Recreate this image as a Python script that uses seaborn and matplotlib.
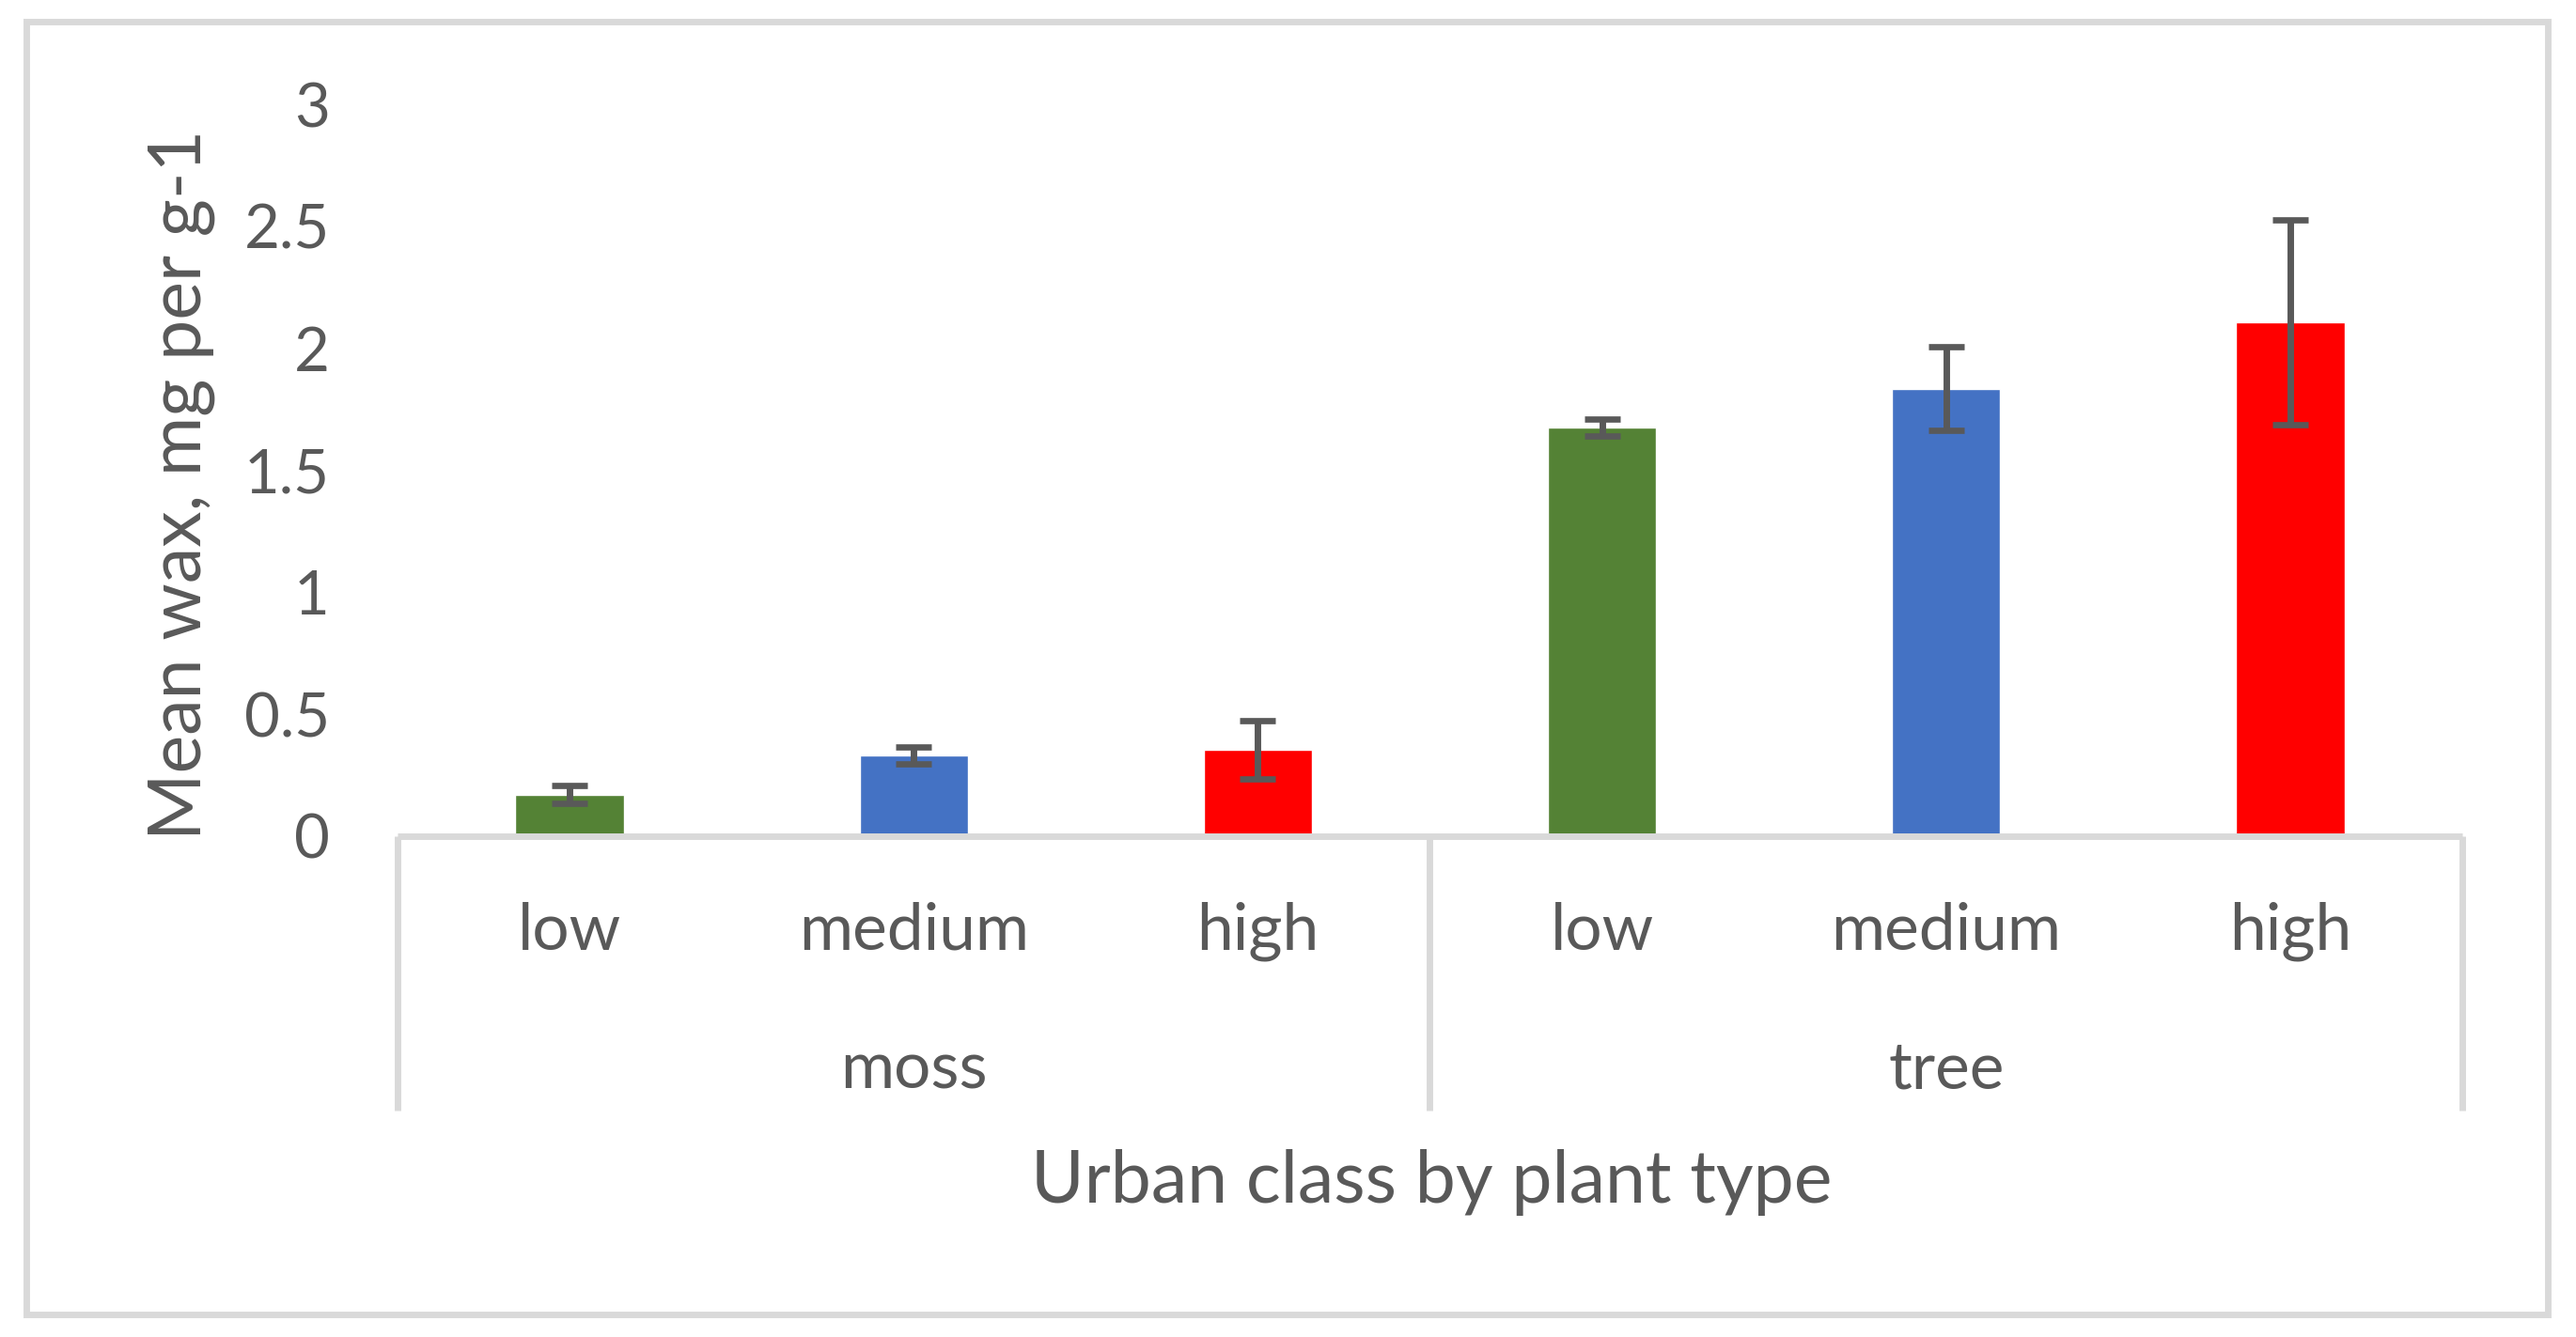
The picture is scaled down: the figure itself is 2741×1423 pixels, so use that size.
import matplotlib
matplotlib.use("Agg")
import matplotlib.pyplot as plt
import matplotlib.transforms as mtransforms
from matplotlib.patches import Rectangle
import seaborn as sns
import pandas as pd

# ---- data ----
plant_types = ["moss", "tree"]
urban_classes = ["low", "medium", "high"]
moss_means = [0.17, 0.33, 0.355]
moss_errors = [0.037, 0.035, 0.12]
tree_means = [1.675, 1.835, 2.105]
tree_errors = [0.033, 0.17, 0.42]
class_colors = {"low": "#548235", "medium": "#4472C4", "high": "#FF0000"}
y_ticks = [0, 0.5, 1, 1.5, 2, 2.5, 3]
y_tick_labels = ["0", "0.5", "1", "1.5", "2", "2.5", "3"]

rows = []
for p, means, errs in [("moss", moss_means, moss_errors), ("tree", tree_means, tree_errors)]:
    for c, m, e in zip(urban_classes, means, errs):
        rows.append({"key": f"{p}-{c}", "plant": p, "urban": c, "mean": m, "err": e})
df = pd.DataFrame(rows)

sns.set_theme(style="white")
plt.rcParams["font.family"] = ["Lato", "DejaVu Sans"]

TXT = "#595959"
GRID = "#D9D9D9"

fig = plt.figure(figsize=(27.41, 14.23), dpi=100)
ax = fig.add_axes([423 / 2741, 1 - 890 / 1423, (2620 - 423) / 2741, (890 - 111) / 1423])

palette = {k: class_colors[u] for k, u in zip(df["key"], df["urban"])}
sns.barplot(data=df, x="key", y="mean", hue="key", palette=palette, order=list(df["key"]),
            width=0.315, errorbar=None, legend=False, ax=ax, saturation=1)

ax.errorbar(range(len(df)), df["mean"], yerr=df["err"], fmt="none", ecolor=TXT,
            elinewidth=5, capsize=13.7, capthick=4.8, zorder=5)

ax.set_xlim(-0.5, 5.5)
ax.set_ylim(0, 3)
ax.set_yticks(y_ticks)
ax.set_yticklabels(y_tick_labels)
ax.set_xticks(range(len(df)))
ax.set_xticklabels(list(df["urban"]))

for s in ["top", "right", "left"]:
    ax.spines[s].set_visible(False)
ax.spines["bottom"].set_color(GRID)
ax.spines["bottom"].set_linewidth(5)
ax.spines["bottom"].set_capstyle("butt")

ax.tick_params(axis="y", length=0, pad=52, labelsize=47, labelcolor=TXT)
ax.tick_params(axis="x", length=0, pad=87.1, labelsize=50, labelcolor=TXT)
for lab in ax.get_xticklabels():
    lab.set_va("baseline")

# group separators and group labels
trans = mtransforms.blended_transform_factory(ax.transData, ax.transAxes)
for xv in [-0.5, 2.5, 5.5]:
    ax.plot([xv, xv], [0, -0.3748], transform=trans, color=GRID, lw=5,
            clip_on=False, solid_capstyle="butt")
for i, p in enumerate(plant_types):
    ax.text(1 + 3 * i, -0.3453, p, transform=trans, ha="center", va="baseline",
            fontsize=50, color=TXT)

ax.set_xlabel("Urban class by plant type", fontsize=55.5, color=TXT)
ax.xaxis.set_label_coords(0.5 + 2 / 2197, -0.5)
ax.xaxis.label.set_va("baseline")
ax.set_ylabel("Mean wax, mg per g-1", fontsize=55.5, color=TXT)
ax.yaxis.set_label_coords(-0.1047, 0.48)
ax.yaxis.label.set_va("center")

fig.patches.append(Rectangle((28 / 2741, 1 - 1399 / 1423), (2711 - 28) / 2741, (1399 - 23) / 1423,
                             transform=fig.transFigure, fill=False, edgecolor=GRID, lw=5))

fig.savefig("out.png", dpi=100, facecolor="white")
